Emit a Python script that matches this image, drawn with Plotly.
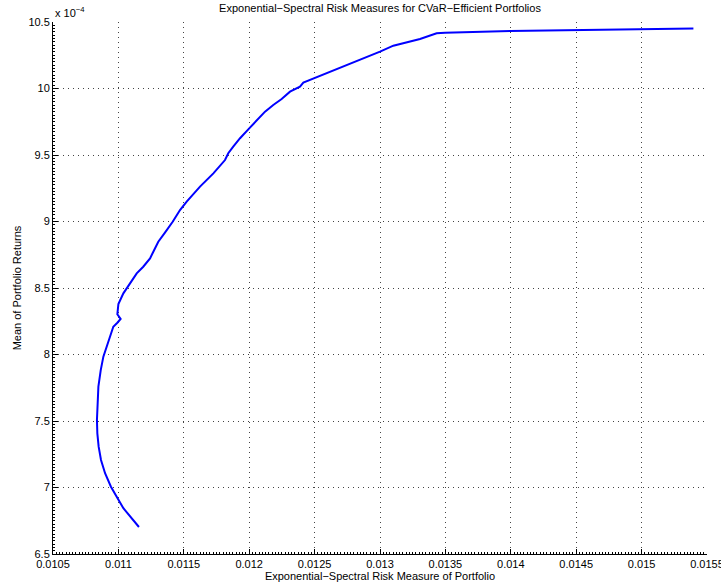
import numpy as np
import plotly.graph_objects as go

# Exponential-spectral risk and mean return along the CVaR-efficient frontier
risk_measure = [
    0.011157, 0.011114, 0.011038, 0.010987, 0.010943, 0.010898, 0.010867,
    0.010849, 0.010839, 0.010836, 0.010839, 0.010847, 0.010865, 0.010885,
    0.010923, 0.010961, 0.010992, 0.011017, 0.010992, 0.011000, 0.011038,
    0.011089, 0.011140, 0.011190, 0.011242, 0.011267, 0.011305, 0.011356,
    0.011415, 0.011471, 0.011522, 0.011624, 0.011726, 0.011815, 0.011840,
    0.011878, 0.011930, 0.011993, 0.012057, 0.012121, 0.012184, 0.012248,
    0.012312, 0.012388, 0.012414, 0.012541, 0.012796, 0.013000, 0.013102,
    0.013306, 0.013433, 0.013497, 0.013994, 0.014504, 0.015013, 0.015396,
]
mean_return_e4 = [
    6.703, 6.756, 6.844, 6.931, 7.006, 7.107, 7.207,
    7.307, 7.407, 7.508, 7.633, 7.758, 7.883, 7.984,
    8.096, 8.209, 8.239, 8.267, 8.302, 8.380, 8.460,
    8.535, 8.610, 8.660, 8.723, 8.773, 8.848, 8.916,
    8.998, 9.086, 9.149, 9.262, 9.362, 9.462, 9.513,
    9.563, 9.626, 9.693, 9.763, 9.826, 9.876, 9.921,
    9.976, 10.014, 10.044, 10.094, 10.194, 10.277, 10.322,
    10.372, 10.415, 10.420, 10.432, 10.440, 10.447, 10.452,
]

x_ticks = [0.0105, 0.011, 0.0115, 0.012, 0.0125, 0.013, 0.0135, 0.014, 0.0145, 0.015, 0.0155]
x_tick_labels = ["0.0105", "0.011", "0.0115", "0.012", "0.0125", "0.013",
                 "0.0135", "0.014", "0.0145", "0.015", "0.0155"]
y_ticks_e4 = [6.5, 7, 7.5, 8, 8.5, 9, 9.5, 10, 10.5]
y_tick_labels = ["6.5", "7", "7.5", "8", "8.5", "9", "9.5", "10", "10.5"]

y_values = np.array(mean_return_e4) * 1e-4
y_tickvals = np.array(y_ticks_e4) * 1e-4

FONT = "Liberation Sans, Arial, Helvetica, sans-serif"

fig = go.Figure()
fig.add_trace(go.Scatter(
    x=risk_measure, y=y_values, mode="lines",
    line=dict(color="#0000FF", width=2),
    showlegend=False,
))

axis_common = dict(
    showgrid=True, gridcolor="#444444", griddash="1px,4px", gridwidth=1,
    showline=True, linecolor="#000000", linewidth=1,
    ticks="inside", ticklen=5, tickcolor="#000000",
    tickfont=dict(family=FONT, size=11, color="#000000"),
    zeroline=False, mirror=False, automargin=False,
    ticklabeloverflow="allow",
)

fig.update_xaxes(
    range=[0.0105, 0.0155000001], tickvals=x_ticks, ticktext=x_tick_labels,
    minor=dict(ticks="inside", ticklen=2, tickcolor="#000000",
               dtick=0.000025, tick0=0.0105, showgrid=False),
    title=dict(text="Exponential\u2212Spectral Risk Measure of Portfolio",
               font=dict(family=FONT, size=11, color="#000000"), standoff=0),
    **axis_common,
)
fig.update_yaxes(
    range=[6.5e-4, 10.5e-4], tickvals=y_tickvals, ticktext=y_tick_labels,
    minor=dict(ticks="inside", ticklen=2, tickcolor="#000000",
               dtick=0.025e-4, tick0=6.5e-4, showgrid=False),
    title=dict(text="Mean of Portfolio Returns",
               font=dict(family=FONT, size=11, color="#000000"), standoff=4),
    **axis_common,
)

fig.update_layout(
    width=721, height=582,
    margin=dict(l=53, r=14, t=22, b=28),
    paper_bgcolor="#FFFFFF", plot_bgcolor="#FFFFFF",
    title=dict(text="Exponential\u2212Spectral Risk Measures for CVaR\u2212Efficient Portfolios",
               x=0.5, xanchor="center", xref="paper", y=0.986, yanchor="middle",
               font=dict(family=FONT, size=11, color="#000000")),
    annotations=[dict(
        text="x 10<sup>\u22124</sup>", x=0, y=1, xref="paper", yref="paper",
        xanchor="left", yanchor="bottom", showarrow=False, yshift=1,
        font=dict(family=FONT, size=11, color="#000000"),
    )],
)

fig.write_html("out.html")
